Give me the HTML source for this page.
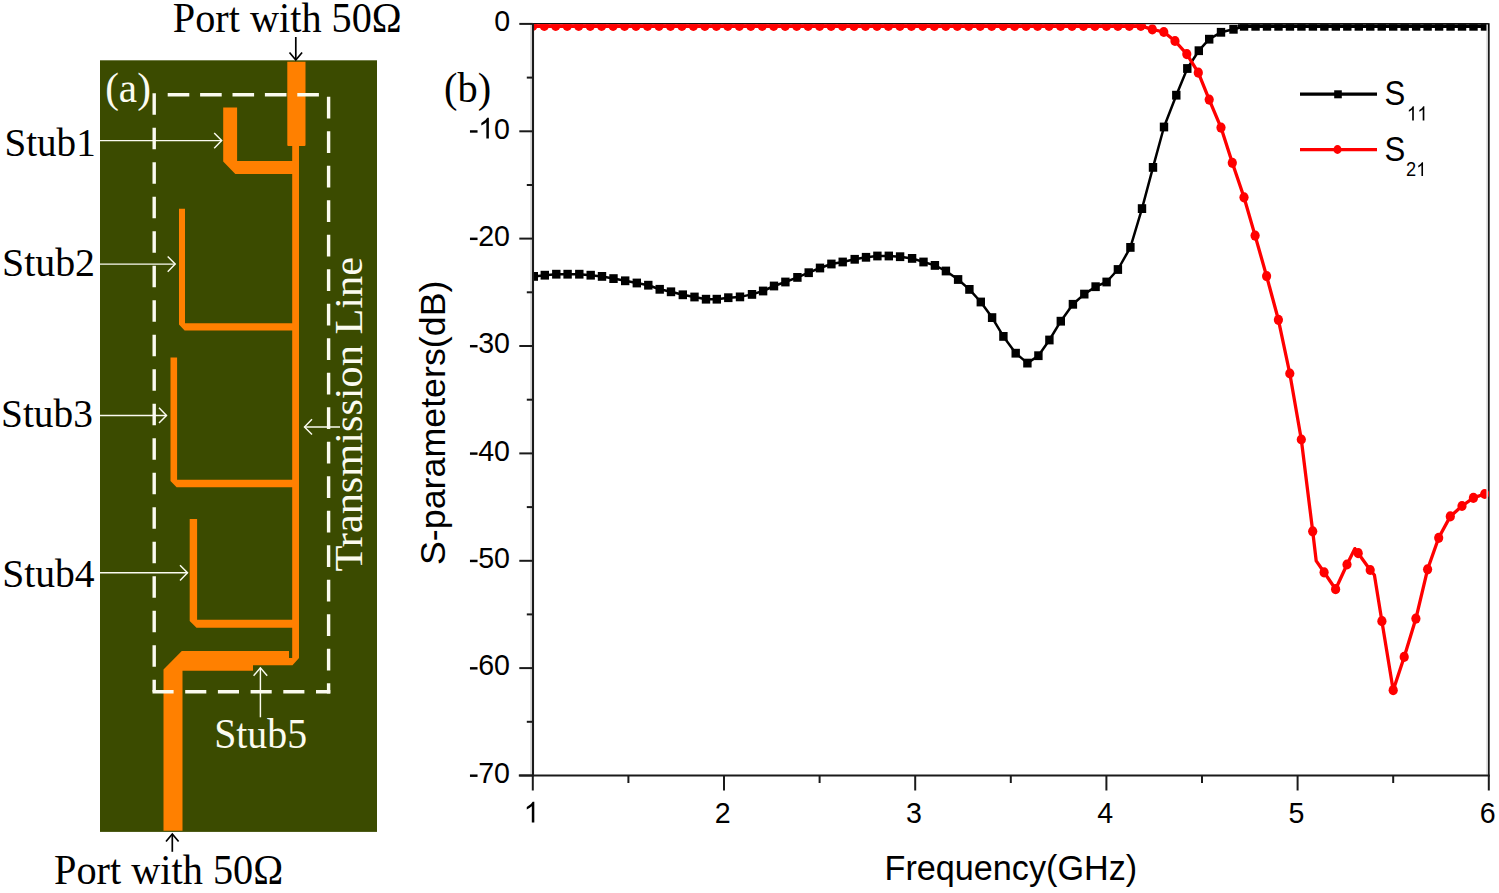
<!DOCTYPE html>
<html><head><meta charset="utf-8"><title>Filter</title><style>html,body{margin:0;padding:0;background:#fff;overflow:hidden}svg{display:block}</style></head><body>
<svg width="1499" height="893" viewBox="0 0 1499 893">
<rect x="0" y="0" width="1499" height="893" fill="#fff"/>
<rect x="100" y="60.3" width="277" height="771.6" fill="#3b4b00"/>
<g fill="#ff8000">
<path d="M287.3,61.8 H305.5 V145 Q305.5,146 304.5,146 H299 V658 L292.5,665.2 H253 V670.8 H182.5 V830.8 H163.5 V669.5 L181.8,651.1 H289 V658 H292.2 V146 H288.3 Q287.3,146 287.3,145 Z"/>
<path d="M223.2,107.6 H237.1 V161 H295 V174.1 H235.3 L223.2,161.5 Z"/>
<path d="M179,208.8 H185 V323.3 H295 V330.6 H184.6 L179,324.5 Z"/>
<path d="M170.5,357.4 H177.1 V479.8 H295 V487.3 H176.6 L170.5,481 Z"/>
<path d="M189.7,519 H197.1 V619.8 H295 V627.7 H196.5 L189.7,621 Z"/>
</g>
<g stroke="#fbfbf0" stroke-width="3.4" fill="none">
<line x1="154.2" y1="93.2" x2="154.2" y2="691.8" stroke-dasharray="21.6 12.9"/>
<line x1="167.7" y1="94.7" x2="325" y2="94.7" stroke-dasharray="21.6 10.8"/>
<line x1="328.6" y1="96.8" x2="328.6" y2="693.5" stroke-dasharray="21.8 12.7"/>
<line x1="152.5" y1="691.8" x2="330.3" y2="691.8" stroke-dasharray="21.1 11.6"/>
</g>
<line x1="100" y1="140.6" x2="221.7" y2="140.6" stroke="#fbfbf0" stroke-width="1.45"/><polyline points="214.2,133.0 221.7,140.6 214.2,148.2" fill="none" stroke="#fbfbf0" stroke-width="1.45"/>
<line x1="100" y1="264.1" x2="175.2" y2="264.1" stroke="#fbfbf0" stroke-width="1.45"/><polyline points="167.7,256.5 175.2,264.1 167.7,271.70000000000005" fill="none" stroke="#fbfbf0" stroke-width="1.45"/>
<line x1="100" y1="415.4" x2="166.5" y2="415.4" stroke="#fbfbf0" stroke-width="1.45"/><polyline points="159.0,407.79999999999995 166.5,415.4 159.0,423.0" fill="none" stroke="#fbfbf0" stroke-width="1.45"/>
<line x1="100" y1="572.8" x2="187.5" y2="572.8" stroke="#fbfbf0" stroke-width="1.45"/><polyline points="180.0,565.1999999999999 187.5,572.8 180.0,580.4" fill="none" stroke="#fbfbf0" stroke-width="1.45"/>
<line x1="340" y1="426.9" x2="304.5" y2="426.9" stroke="#fbfbf0" stroke-width="1.45"/><polyline points="312.0,419.29999999999995 304.5,426.9 312.0,434.5" fill="none" stroke="#fbfbf0" stroke-width="1.45"/>
<line x1="260.4" y1="717.3" x2="260.4" y2="667.8" stroke="#fbfbf0" stroke-width="1.45"/><polyline points="253.59999999999997,675.8 260.4,667.8 267.2,675.8" fill="none" stroke="#fbfbf0" stroke-width="1.45"/>
<line x1="295.8" y1="37.0" x2="295.8" y2="60.0" stroke="#000" stroke-width="1.7"/><polyline points="289.5,52.5 295.8,60.0 302.1,52.5" fill="none" stroke="#000" stroke-width="1.7"/>
<line x1="172.3" y1="851.8" x2="172.3" y2="834.0" stroke="#000" stroke-width="1.7"/><polyline points="166.0,841.5 172.3,834.0 178.60000000000002,841.5" fill="none" stroke="#000" stroke-width="1.7"/>
<text transform="translate(172.79,31.60) scale(1,1.035)" font-family="'Liberation Serif', serif" font-size="40.27" fill="#000">Port with 50Ω</text>
<text transform="translate(53.99,883.80) scale(1,1.040)" font-family="'Liberation Serif', serif" font-size="40.30" fill="#000">Port with 50Ω</text>
<text transform="translate(4.46,155.70) scale(1,1.030)" font-family="'Liberation Serif', serif" font-size="39.10" fill="#000">Stub1</text>
<text transform="translate(2.01,275.60) scale(1,1.030)" font-family="'Liberation Serif', serif" font-size="39.86" fill="#000">Stub2</text>
<text transform="translate(1.04,426.80) scale(1,1.030)" font-family="'Liberation Serif', serif" font-size="39.33" fill="#000">Stub3</text>
<text transform="translate(2.23,587.00) scale(1,1.030)" font-family="'Liberation Serif', serif" font-size="39.60" fill="#000">Stub4</text>
<text transform="translate(214.21,748.00) scale(1,1.050)" font-family="'Liberation Serif', serif" font-size="39.78" fill="#fbfbf0">Stub5</text>
<text transform="translate(105.15,101.70) scale(1,1.020)" font-family="'Liberation Serif', serif" font-size="41.18" fill="#fbfbf0">(a)</text>
<text transform="translate(362.00,571.55) rotate(-90) scale(1.058,1)" font-family="'Liberation Serif', serif" font-size="40.00" fill="#fbfbf0">Transmission Line</text>
<line x1="532.8" y1="23.6" x2="1488.8" y2="23.6" stroke="#111" stroke-width="1.4"/>
<line x1="1488.8" y1="23.3" x2="1488.8" y2="776.3" stroke="#1a1a1a" stroke-width="1.8"/>
<clipPath id="pc"><rect x="532.8" y="24.3" width="956.0" height="752"/></clipPath>
<g clip-path="url(#pc)">
<polyline points="533.8,276.4 544.8,275.2 556.3,274.2 567.6,274.2 579.3,274.2 590.7,275.2 602.0,276.4 613.5,278.6 625.2,280.8 636.8,283.0 648.3,285.2 659.7,289.3 671.0,291.8 682.8,294.8 694.5,297.0 706.0,299.2 716.8,299.2 728.3,297.7 740.0,296.9 752.0,294.4 763.1,291.0 774.0,286.0 785.4,282.0 797.4,277.4 808.7,272.7 820.0,268.0 831.4,264.0 842.7,262.0 854.7,259.3 866.0,257.3 877.4,256.0 888.8,256.0 900.1,256.7 912.1,258.4 923.5,262.0 934.9,265.4 945.9,271.0 958.1,279.5 969.4,289.4 980.8,302.0 992.1,317.6 1003.4,336.4 1015.7,353.2 1027.4,363.1 1038.4,355.7 1049.4,340.0 1060.8,321.2 1072.9,304.3 1084.3,294.1 1095.6,286.7 1106.6,282.0 1117.9,269.5 1130.4,247.4 1142.0,208.6 1153.0,167.4 1164.0,127.0 1176.3,95.2 1187.3,68.5 1198.8,50.7 1209.2,39.2 1221.0,32.3 1233.5,29.3 1245.0,26.3 1255.5,26.3 1267.0,26.3 1278.5,26.3 1290.0,26.3 1301.4,26.3 1312.9,26.3 1324.4,26.3 1335.8,26.3 1347.3,26.3 1358.8,26.3 1370.3,26.3 1381.7,26.3 1393.2,26.3 1404.7,26.3 1416.1,26.3 1427.6,26.3 1439.1,26.3 1450.6,26.3 1462.0,26.3 1473.5,26.3 1485.0,26.3 1488.8,26.3" fill="none" stroke="#000" stroke-width="2.5" stroke-linejoin="round"/>
<line x1="1238" y1="25.9" x2="1488.8" y2="25.9" stroke="#000" stroke-width="4.0"/>
<g fill="#000"><rect x="529.60" y="272.00" width="8.4" height="8.8"/><rect x="540.60" y="270.80" width="8.4" height="8.8"/><rect x="552.10" y="269.80" width="8.4" height="8.8"/><rect x="563.40" y="269.80" width="8.4" height="8.8"/><rect x="575.10" y="269.80" width="8.4" height="8.8"/><rect x="586.50" y="270.80" width="8.4" height="8.8"/><rect x="597.80" y="272.00" width="8.4" height="8.8"/><rect x="609.30" y="274.20" width="8.4" height="8.8"/><rect x="621.00" y="276.40" width="8.4" height="8.8"/><rect x="632.60" y="278.60" width="8.4" height="8.8"/><rect x="644.10" y="280.80" width="8.4" height="8.8"/><rect x="655.50" y="284.90" width="8.4" height="8.8"/><rect x="666.80" y="287.40" width="8.4" height="8.8"/><rect x="678.60" y="290.40" width="8.4" height="8.8"/><rect x="690.30" y="292.60" width="8.4" height="8.8"/><rect x="701.80" y="294.80" width="8.4" height="8.8"/><rect x="712.60" y="294.80" width="8.4" height="8.8"/><rect x="724.10" y="293.30" width="8.4" height="8.8"/><rect x="735.80" y="292.50" width="8.4" height="8.8"/><rect x="747.80" y="290.00" width="8.4" height="8.8"/><rect x="758.90" y="286.60" width="8.4" height="8.8"/><rect x="769.80" y="281.60" width="8.4" height="8.8"/><rect x="781.20" y="277.60" width="8.4" height="8.8"/><rect x="793.20" y="273.00" width="8.4" height="8.8"/><rect x="804.50" y="268.30" width="8.4" height="8.8"/><rect x="815.80" y="263.60" width="8.4" height="8.8"/><rect x="827.20" y="259.60" width="8.4" height="8.8"/><rect x="838.50" y="257.60" width="8.4" height="8.8"/><rect x="850.50" y="254.90" width="8.4" height="8.8"/><rect x="861.80" y="252.90" width="8.4" height="8.8"/><rect x="873.20" y="251.60" width="8.4" height="8.8"/><rect x="884.60" y="251.60" width="8.4" height="8.8"/><rect x="895.90" y="252.30" width="8.4" height="8.8"/><rect x="907.90" y="254.00" width="8.4" height="8.8"/><rect x="919.30" y="257.60" width="8.4" height="8.8"/><rect x="930.70" y="261.00" width="8.4" height="8.8"/><rect x="941.70" y="266.60" width="8.4" height="8.8"/><rect x="953.90" y="275.10" width="8.4" height="8.8"/><rect x="965.20" y="285.00" width="8.4" height="8.8"/><rect x="976.60" y="297.60" width="8.4" height="8.8"/><rect x="987.90" y="313.20" width="8.4" height="8.8"/><rect x="999.20" y="332.00" width="8.4" height="8.8"/><rect x="1011.50" y="348.80" width="8.4" height="8.8"/><rect x="1023.20" y="358.70" width="8.4" height="8.8"/><rect x="1034.20" y="351.30" width="8.4" height="8.8"/><rect x="1045.20" y="335.60" width="8.4" height="8.8"/><rect x="1056.60" y="316.80" width="8.4" height="8.8"/><rect x="1068.70" y="299.90" width="8.4" height="8.8"/><rect x="1080.10" y="289.70" width="8.4" height="8.8"/><rect x="1091.40" y="282.30" width="8.4" height="8.8"/><rect x="1102.40" y="277.60" width="8.4" height="8.8"/><rect x="1113.70" y="265.10" width="8.4" height="8.8"/><rect x="1126.20" y="243.00" width="8.4" height="8.8"/><rect x="1137.80" y="204.20" width="8.4" height="8.8"/><rect x="1148.80" y="163.00" width="8.4" height="8.8"/><rect x="1159.80" y="122.60" width="8.4" height="8.8"/><rect x="1172.10" y="90.80" width="8.4" height="8.8"/><rect x="1183.10" y="64.10" width="8.4" height="8.8"/><rect x="1194.60" y="46.30" width="8.4" height="8.8"/><rect x="1205.00" y="34.80" width="8.4" height="8.8"/><rect x="1216.80" y="27.90" width="8.4" height="8.8"/><rect x="1229.30" y="24.90" width="8.4" height="8.8"/><rect x="1239.86" y="21.90" width="8.4" height="8.8"/><rect x="1251.34" y="21.90" width="8.4" height="8.8"/><rect x="1262.81" y="21.90" width="8.4" height="8.8"/><rect x="1274.28" y="21.90" width="8.4" height="8.8"/><rect x="1285.75" y="21.90" width="8.4" height="8.8"/><rect x="1297.22" y="21.90" width="8.4" height="8.8"/><rect x="1308.70" y="21.90" width="8.4" height="8.8"/><rect x="1320.17" y="21.90" width="8.4" height="8.8"/><rect x="1331.64" y="21.90" width="8.4" height="8.8"/><rect x="1343.11" y="21.90" width="8.4" height="8.8"/><rect x="1354.58" y="21.90" width="8.4" height="8.8"/><rect x="1366.06" y="21.90" width="8.4" height="8.8"/><rect x="1377.53" y="21.90" width="8.4" height="8.8"/><rect x="1389.00" y="21.90" width="8.4" height="8.8"/><rect x="1400.47" y="21.90" width="8.4" height="8.8"/><rect x="1411.94" y="21.90" width="8.4" height="8.8"/><rect x="1423.42" y="21.90" width="8.4" height="8.8"/><rect x="1434.89" y="21.90" width="8.4" height="8.8"/><rect x="1446.36" y="21.90" width="8.4" height="8.8"/><rect x="1457.83" y="21.90" width="8.4" height="8.8"/><rect x="1469.30" y="21.90" width="8.4" height="8.8"/><rect x="1480.78" y="21.90" width="8.4" height="8.8"/></g>
<polyline points="532.8,25.9 532.8,25.9 544.3,25.9 555.7,25.9 567.2,25.9 578.7,25.9 590.2,25.9 601.6,25.9 613.1,25.9 624.6,25.9 636.0,25.9 647.5,25.9 659.0,25.9 670.5,25.9 681.9,25.9 693.4,25.9 704.9,25.9 716.4,25.9 727.8,25.9 739.3,25.9 750.8,25.9 762.2,25.9 773.7,25.9 785.2,25.9 796.7,25.9 808.1,25.9 819.6,25.9 831.1,25.9 842.5,25.9 854.0,25.9 865.5,25.9 877.0,25.9 888.4,25.9 899.9,25.9 911.4,25.9 922.8,25.9 934.3,25.9 945.8,25.9 957.3,25.9 968.7,25.9 980.2,25.9 991.7,25.9 1003.2,25.9 1014.6,25.9 1026.1,25.9 1037.6,25.9 1049.0,25.9 1060.5,25.9 1072.0,25.9 1083.5,25.9 1094.9,25.9 1106.4,25.9 1117.9,25.9 1129.3,25.9 1140.8,25.9 1152.3,29.3 1163.8,32.0 1175.0,41.0 1186.8,54.1 1198.3,72.7 1209.2,99.6 1221.0,127.6 1232.3,162.8 1244.0,197.3 1255.1,235.6 1266.6,276.1 1278.4,319.8 1289.8,373.5 1301.3,439.5 1312.7,531.3 1316.2,560.9 1324.1,572.3 1335.6,589.2 1347.0,564.5 1354.9,548.6 1358.2,553.2 1370.2,570.0 1374.4,575.0 1381.9,621.2 1393.2,690.2 1404.2,656.9 1415.9,618.6 1427.6,569.3 1438.7,537.8 1450.3,516.4 1462.0,506.0 1473.4,497.9 1484.7,494.0 1488.8,492.5" fill="none" stroke="#f00" stroke-width="3.3" stroke-linejoin="round"/>
<line x1="532.8" y1="26.1" x2="1146" y2="26.1" stroke="#f00" stroke-width="3.8"/>
<g fill="#f00"><ellipse cx="532.8" cy="25.9" rx="4.6" ry="5.1"/><ellipse cx="544.3" cy="25.9" rx="4.6" ry="5.1"/><ellipse cx="555.7" cy="25.9" rx="4.6" ry="5.1"/><ellipse cx="567.2" cy="25.9" rx="4.6" ry="5.1"/><ellipse cx="578.7" cy="25.9" rx="4.6" ry="5.1"/><ellipse cx="590.2" cy="25.9" rx="4.6" ry="5.1"/><ellipse cx="601.6" cy="25.9" rx="4.6" ry="5.1"/><ellipse cx="613.1" cy="25.9" rx="4.6" ry="5.1"/><ellipse cx="624.6" cy="25.9" rx="4.6" ry="5.1"/><ellipse cx="636.0" cy="25.9" rx="4.6" ry="5.1"/><ellipse cx="647.5" cy="25.9" rx="4.6" ry="5.1"/><ellipse cx="659.0" cy="25.9" rx="4.6" ry="5.1"/><ellipse cx="670.5" cy="25.9" rx="4.6" ry="5.1"/><ellipse cx="681.9" cy="25.9" rx="4.6" ry="5.1"/><ellipse cx="693.4" cy="25.9" rx="4.6" ry="5.1"/><ellipse cx="704.9" cy="25.9" rx="4.6" ry="5.1"/><ellipse cx="716.4" cy="25.9" rx="4.6" ry="5.1"/><ellipse cx="727.8" cy="25.9" rx="4.6" ry="5.1"/><ellipse cx="739.3" cy="25.9" rx="4.6" ry="5.1"/><ellipse cx="750.8" cy="25.9" rx="4.6" ry="5.1"/><ellipse cx="762.2" cy="25.9" rx="4.6" ry="5.1"/><ellipse cx="773.7" cy="25.9" rx="4.6" ry="5.1"/><ellipse cx="785.2" cy="25.9" rx="4.6" ry="5.1"/><ellipse cx="796.7" cy="25.9" rx="4.6" ry="5.1"/><ellipse cx="808.1" cy="25.9" rx="4.6" ry="5.1"/><ellipse cx="819.6" cy="25.9" rx="4.6" ry="5.1"/><ellipse cx="831.1" cy="25.9" rx="4.6" ry="5.1"/><ellipse cx="842.5" cy="25.9" rx="4.6" ry="5.1"/><ellipse cx="854.0" cy="25.9" rx="4.6" ry="5.1"/><ellipse cx="865.5" cy="25.9" rx="4.6" ry="5.1"/><ellipse cx="877.0" cy="25.9" rx="4.6" ry="5.1"/><ellipse cx="888.4" cy="25.9" rx="4.6" ry="5.1"/><ellipse cx="899.9" cy="25.9" rx="4.6" ry="5.1"/><ellipse cx="911.4" cy="25.9" rx="4.6" ry="5.1"/><ellipse cx="922.8" cy="25.9" rx="4.6" ry="5.1"/><ellipse cx="934.3" cy="25.9" rx="4.6" ry="5.1"/><ellipse cx="945.8" cy="25.9" rx="4.6" ry="5.1"/><ellipse cx="957.3" cy="25.9" rx="4.6" ry="5.1"/><ellipse cx="968.7" cy="25.9" rx="4.6" ry="5.1"/><ellipse cx="980.2" cy="25.9" rx="4.6" ry="5.1"/><ellipse cx="991.7" cy="25.9" rx="4.6" ry="5.1"/><ellipse cx="1003.2" cy="25.9" rx="4.6" ry="5.1"/><ellipse cx="1014.6" cy="25.9" rx="4.6" ry="5.1"/><ellipse cx="1026.1" cy="25.9" rx="4.6" ry="5.1"/><ellipse cx="1037.6" cy="25.9" rx="4.6" ry="5.1"/><ellipse cx="1049.0" cy="25.9" rx="4.6" ry="5.1"/><ellipse cx="1060.5" cy="25.9" rx="4.6" ry="5.1"/><ellipse cx="1072.0" cy="25.9" rx="4.6" ry="5.1"/><ellipse cx="1083.5" cy="25.9" rx="4.6" ry="5.1"/><ellipse cx="1094.9" cy="25.9" rx="4.6" ry="5.1"/><ellipse cx="1106.4" cy="25.9" rx="4.6" ry="5.1"/><ellipse cx="1117.9" cy="25.9" rx="4.6" ry="5.1"/><ellipse cx="1129.3" cy="25.9" rx="4.6" ry="5.1"/><ellipse cx="1140.8" cy="25.9" rx="4.6" ry="5.1"/><ellipse cx="1152.3" cy="29.3" rx="4.6" ry="5.1"/><ellipse cx="1163.8" cy="32.0" rx="4.6" ry="5.1"/><ellipse cx="1175.0" cy="41.0" rx="4.6" ry="5.1"/><ellipse cx="1186.8" cy="54.1" rx="4.6" ry="5.1"/><ellipse cx="1198.3" cy="72.7" rx="4.6" ry="5.1"/><ellipse cx="1209.2" cy="99.6" rx="4.6" ry="5.1"/><ellipse cx="1221.0" cy="127.6" rx="4.6" ry="5.1"/><ellipse cx="1232.3" cy="162.8" rx="4.6" ry="5.1"/><ellipse cx="1244.0" cy="197.3" rx="4.6" ry="5.1"/><ellipse cx="1255.1" cy="235.6" rx="4.6" ry="5.1"/><ellipse cx="1266.6" cy="276.1" rx="4.6" ry="5.1"/><ellipse cx="1278.4" cy="319.8" rx="4.6" ry="5.1"/><ellipse cx="1289.8" cy="373.5" rx="4.6" ry="5.1"/><ellipse cx="1301.3" cy="439.5" rx="4.6" ry="5.1"/><ellipse cx="1312.7" cy="531.3" rx="4.6" ry="5.1"/><ellipse cx="1324.1" cy="572.3" rx="4.6" ry="5.1"/><ellipse cx="1335.6" cy="589.2" rx="4.6" ry="5.1"/><ellipse cx="1347.0" cy="564.5" rx="4.6" ry="5.1"/><ellipse cx="1358.2" cy="553.2" rx="4.6" ry="5.1"/><ellipse cx="1370.2" cy="570.0" rx="4.6" ry="5.1"/><ellipse cx="1381.9" cy="621.2" rx="4.6" ry="5.1"/><ellipse cx="1393.2" cy="690.2" rx="4.6" ry="5.1"/><ellipse cx="1404.2" cy="656.9" rx="4.6" ry="5.1"/><ellipse cx="1415.9" cy="618.6" rx="4.6" ry="5.1"/><ellipse cx="1427.6" cy="569.3" rx="4.6" ry="5.1"/><ellipse cx="1438.7" cy="537.8" rx="4.6" ry="5.1"/><ellipse cx="1450.3" cy="516.4" rx="4.6" ry="5.1"/><ellipse cx="1462.0" cy="506.0" rx="4.6" ry="5.1"/><ellipse cx="1473.4" cy="497.9" rx="4.6" ry="5.1"/><ellipse cx="1484.7" cy="494.0" rx="4.6" ry="5.1"/></g>
</g>
<line x1="531.0" y1="24.5" x2="531.0" y2="774.5" stroke="#dcdcdc" stroke-width="2.0"/>
<line x1="1487.2" y1="24.5" x2="1487.2" y2="774.5" stroke="#d4d4d4" stroke-width="1.6"/>
<line x1="533.0" y1="23.3" x2="533.0" y2="776.5" stroke="#1a1a1a" stroke-width="2.1"/>
<line x1="518.8" y1="775.5" x2="1489.7" y2="775.5" stroke="#1a1a1a" stroke-width="2.0"/>
<line x1="519.3" y1="23.9" x2="532.8" y2="23.9" stroke="#1a1a1a" stroke-width="2"/>
<line x1="526.8" y1="77.6" x2="532.8" y2="77.6" stroke="#1a1a1a" stroke-width="2"/>
<line x1="519.3" y1="131.3" x2="532.8" y2="131.3" stroke="#1a1a1a" stroke-width="2"/>
<line x1="526.8" y1="185.0" x2="532.8" y2="185.0" stroke="#1a1a1a" stroke-width="2"/>
<line x1="519.3" y1="238.6" x2="532.8" y2="238.6" stroke="#1a1a1a" stroke-width="2"/>
<line x1="526.8" y1="292.3" x2="532.8" y2="292.3" stroke="#1a1a1a" stroke-width="2"/>
<line x1="519.3" y1="346.0" x2="532.8" y2="346.0" stroke="#1a1a1a" stroke-width="2"/>
<line x1="526.8" y1="399.7" x2="532.8" y2="399.7" stroke="#1a1a1a" stroke-width="2"/>
<line x1="519.3" y1="453.4" x2="532.8" y2="453.4" stroke="#1a1a1a" stroke-width="2"/>
<line x1="526.8" y1="507.1" x2="532.8" y2="507.1" stroke="#1a1a1a" stroke-width="2"/>
<line x1="519.3" y1="560.8" x2="532.8" y2="560.8" stroke="#1a1a1a" stroke-width="2"/>
<line x1="526.8" y1="614.4" x2="532.8" y2="614.4" stroke="#1a1a1a" stroke-width="2"/>
<line x1="519.3" y1="668.1" x2="532.8" y2="668.1" stroke="#1a1a1a" stroke-width="2"/>
<line x1="526.8" y1="721.8" x2="532.8" y2="721.8" stroke="#1a1a1a" stroke-width="2"/>
<line x1="519.3" y1="775.5" x2="532.8" y2="775.5" stroke="#1a1a1a" stroke-width="2"/>
<line x1="532.8" y1="775.5" x2="532.8" y2="790.5" stroke="#1a1a1a" stroke-width="2"/>
<line x1="628.4" y1="775.5" x2="628.4" y2="783.0" stroke="#1a1a1a" stroke-width="2"/>
<line x1="724.0" y1="775.5" x2="724.0" y2="790.5" stroke="#1a1a1a" stroke-width="2"/>
<line x1="819.6" y1="775.5" x2="819.6" y2="783.0" stroke="#1a1a1a" stroke-width="2"/>
<line x1="915.2" y1="775.5" x2="915.2" y2="790.5" stroke="#1a1a1a" stroke-width="2"/>
<line x1="1010.8" y1="775.5" x2="1010.8" y2="783.0" stroke="#1a1a1a" stroke-width="2"/>
<line x1="1106.4" y1="775.5" x2="1106.4" y2="790.5" stroke="#1a1a1a" stroke-width="2"/>
<line x1="1202.0" y1="775.5" x2="1202.0" y2="783.0" stroke="#1a1a1a" stroke-width="2"/>
<line x1="1297.6" y1="775.5" x2="1297.6" y2="790.5" stroke="#1a1a1a" stroke-width="2"/>
<line x1="1393.2" y1="775.5" x2="1393.2" y2="783.0" stroke="#1a1a1a" stroke-width="2"/>
<line x1="1488.8" y1="775.5" x2="1488.8" y2="790.5" stroke="#1a1a1a" stroke-width="2"/>
<text transform="translate(494.13,31.20) scale(1,1.040)" font-family="Liberation Sans, sans-serif" font-size="28.60" fill="#000">0</text>
<rect x="469.96" y="130.24" width="7.58" height="2.44" fill="#000"/><path transform="translate(478.20,138.57) scale(28.600,29.744)" d="M0.373,0 L0.373,-0.70 L0.316,-0.70 Q0.27,-0.606 0.109,-0.52 L0.109,-0.438 Q0.21,-0.48 0.285,-0.548 L0.285,0 Z" fill="#000"/><text transform="translate(494.10,138.57) scale(1,1.040)" font-family="Liberation Sans, sans-serif" font-size="28.60" fill="#000">0</text>
<rect x="469.96" y="237.61" width="7.58" height="2.44" fill="#000"/><text transform="translate(478.20,245.94) scale(1,1.040)" font-family="Liberation Sans, sans-serif" font-size="28.60" fill="#000">2</text><text transform="translate(494.10,245.94) scale(1,1.040)" font-family="Liberation Sans, sans-serif" font-size="28.60" fill="#000">0</text>
<rect x="469.96" y="344.99" width="7.58" height="2.44" fill="#000"/><text transform="translate(478.20,353.31) scale(1,1.040)" font-family="Liberation Sans, sans-serif" font-size="28.60" fill="#000">3</text><text transform="translate(494.10,353.31) scale(1,1.040)" font-family="Liberation Sans, sans-serif" font-size="28.60" fill="#000">0</text>
<rect x="469.96" y="452.36" width="7.58" height="2.44" fill="#000"/><text transform="translate(478.20,460.69) scale(1,1.040)" font-family="Liberation Sans, sans-serif" font-size="28.60" fill="#000">4</text><text transform="translate(494.10,460.69) scale(1,1.040)" font-family="Liberation Sans, sans-serif" font-size="28.60" fill="#000">0</text>
<rect x="469.96" y="559.73" width="7.58" height="2.44" fill="#000"/><text transform="translate(478.20,568.06) scale(1,1.040)" font-family="Liberation Sans, sans-serif" font-size="28.60" fill="#000">5</text><text transform="translate(494.10,568.06) scale(1,1.040)" font-family="Liberation Sans, sans-serif" font-size="28.60" fill="#000">0</text>
<rect x="469.96" y="667.10" width="7.58" height="2.44" fill="#000"/><text transform="translate(478.20,675.43) scale(1,1.040)" font-family="Liberation Sans, sans-serif" font-size="28.60" fill="#000">6</text><text transform="translate(494.10,675.43) scale(1,1.040)" font-family="Liberation Sans, sans-serif" font-size="28.60" fill="#000">0</text>
<rect x="469.96" y="774.47" width="7.58" height="2.44" fill="#000"/><text transform="translate(478.20,782.80) scale(1,1.040)" font-family="Liberation Sans, sans-serif" font-size="28.60" fill="#000">7</text><text transform="translate(494.10,782.80) scale(1,1.040)" font-family="Liberation Sans, sans-serif" font-size="28.60" fill="#000">0</text>
<path transform="translate(523.65,822.50) scale(28.600,29.744)" d="M0.373,0 L0.373,-0.70 L0.316,-0.70 Q0.27,-0.606 0.109,-0.52 L0.109,-0.438 Q0.21,-0.48 0.285,-0.548 L0.285,0 Z" fill="#000"/>
<text transform="translate(714.85,822.50) scale(1,1.040)" font-family="Liberation Sans, sans-serif" font-size="28.60" fill="#000">2</text>
<text transform="translate(906.05,822.50) scale(1,1.040)" font-family="Liberation Sans, sans-serif" font-size="28.60" fill="#000">3</text>
<text transform="translate(1097.25,822.50) scale(1,1.040)" font-family="Liberation Sans, sans-serif" font-size="28.60" fill="#000">4</text>
<text transform="translate(1288.45,822.50) scale(1,1.040)" font-family="Liberation Sans, sans-serif" font-size="28.60" fill="#000">5</text>
<text transform="translate(1479.65,822.50) scale(1,1.040)" font-family="Liberation Sans, sans-serif" font-size="28.60" fill="#000">6</text>
<text transform="translate(884.56,880.20) scale(1,1.020)" font-family="'Liberation Sans', sans-serif" font-size="34.19" fill="#000">Frequency(GHz)</text>
<text transform="translate(444.80,565.01) rotate(-90) scale(1.047,1)" font-family="'Liberation Sans', sans-serif" font-size="34.20" fill="#000">S-parameters(dB)</text>
<text transform="translate(444.08,101.70) scale(1,1.020)" font-family="'Liberation Serif', serif" font-size="40.37" fill="#000">(b)</text>
<line x1="1300" y1="94.1" x2="1377" y2="94.1" stroke="#000" stroke-width="3.4"/>
<rect x="1334.2" y="90.3" width="7.6" height="8" fill="#000"/>
<line x1="1300" y1="149.6" x2="1377" y2="149.6" stroke="#f00" stroke-width="3.4"/>
<ellipse cx="1337.5" cy="149.5" rx="4.1" ry="4.4" fill="#f00"/>
<text transform="translate(1384.60,104.80) scale(1,1.100)" font-family="'Liberation Sans', sans-serif" font-size="31.13" fill="#000">S</text>
<path transform="translate(1406.78,120.60) scale(18.907,20.420)" d="M0.373,0 L0.373,-0.70 L0.316,-0.70 Q0.27,-0.606 0.109,-0.52 L0.109,-0.438 Q0.21,-0.48 0.285,-0.548 L0.285,0 Z" fill="#000"/><path transform="translate(1417.30,120.60) scale(18.907,20.420)" d="M0.373,0 L0.373,-0.70 L0.316,-0.70 Q0.27,-0.606 0.109,-0.52 L0.109,-0.438 Q0.21,-0.48 0.285,-0.548 L0.285,0 Z" fill="#000"/>
<text transform="translate(1384.60,160.80) scale(1,1.100)" font-family="'Liberation Sans', sans-serif" font-size="31.13" fill="#000">S</text>
<text transform="translate(1406.09,176.00) scale(1,1.080)" font-family="Liberation Sans, sans-serif" font-size="18.23" fill="#000">2</text><path transform="translate(1416.23,176.00) scale(18.227,19.685)" d="M0.373,0 L0.373,-0.70 L0.316,-0.70 Q0.27,-0.606 0.109,-0.52 L0.109,-0.438 Q0.21,-0.48 0.285,-0.548 L0.285,0 Z" fill="#000"/>
</svg></body></html>
